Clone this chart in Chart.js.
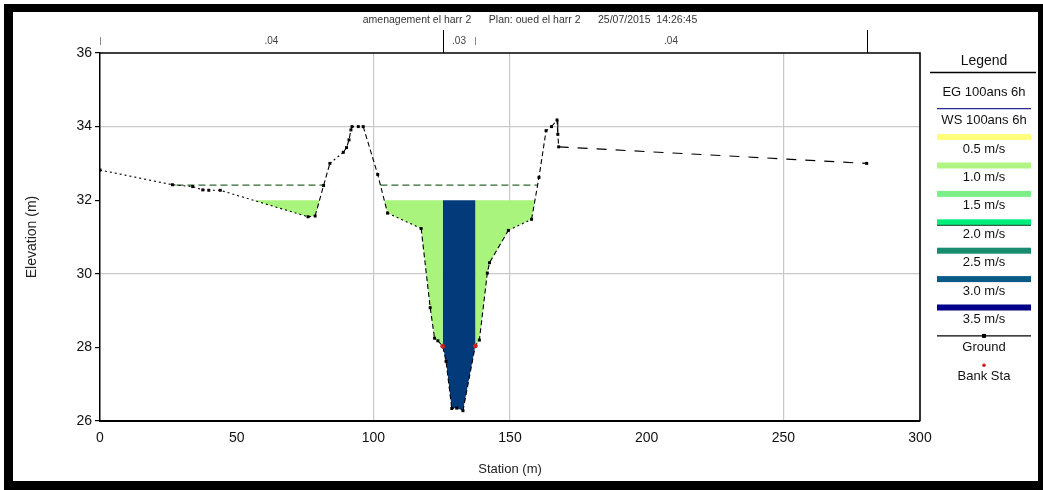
<!DOCTYPE html>
<html>
<head>
<meta charset="utf-8">
<script src="https://cdn.jsdelivr.net/npm/chart.js@4.4.1/dist/chart.umd.min.js"></script>
<style>
  html, body { margin: 0; padding: 0; background: #fff; }
  canvas { display: block; }
</style>
</head>
<body>
<canvas id="xs" width="1043" height="490"></canvas>
<script>
// ---- cross-section data ----
const titleText = 'amenagement el harr 2      Plan: oued el harr 2      25/07/2015  14:26:45';

const groundStation = [
  0, 26.5, 33.9, 37.6, 39.8, 44.0, 76.1, 78.7, 81.8, 84.1, 89.0, 90.2, 91.1, 91.8,
  92.2, 94.5, 96.3, 101.6, 105.2, 117.5, 120.8, 122.4, 123.6, 125.4, 126.6, 128.7,
  130.5, 132.8, 137.3, 138.8, 141.7, 142.5, 149.4, 157.9, 160.6, 163.2, 165.2,
  167.2, 167.5, 167.8, 280.5
];
const groundElevation = [
  32.82, 32.42, 32.37, 32.28, 32.27, 32.27, 31.55, 31.57, 32.40, 33.00, 33.30, 33.43, 33.64, 33.91,
  34.00, 34.00, 34.00, 32.70, 31.65, 31.23, 29.08, 28.25, 28.18, 28.03, 27.62, 26.34,
  26.35, 26.28, 28.04, 28.20, 30.02, 30.30, 31.18, 31.48, 32.62, 33.89, 34.00,
  34.18, 33.79, 33.45, 33.00
];

const bankStations = [125.4, 137.3];
const wsElevation = 32.0;     // water surface (top of velocity shading)
const egElevation = 32.41;    // energy grade line

// Manning's n regions along the top of the plot
const nChangeStations = [0, 125.4, 137.3, 280.5];
const nValues = ['.04', '.03', '.04'];

// velocity bins shown in the legend
const velocityLabels = ['0.5 m/s', '1.0 m/s', '1.5 m/s', '2.0 m/s', '2.5 m/s', '3.0 m/s', '3.5 m/s'];
const velocityColors = ['#ffff7c', '#b0f584', '#7def88', '#00ef7c', '#178c6e', '#0a5a86', '#00008a'];

// shading of the wetted sub-areas
const overbankColor = '#a9f47c';
const channelColor = '#033b7a';

const gridStations = [100, 150, 250];
const gridElevations = [34, 30];

// ---- helpers working on the ground profile ----
function groundAt(s) {
  for (let i = 0; i < groundStation.length - 1; i++) {
    const a = groundStation[i], b = groundStation[i + 1];
    if (s >= a && s <= b) {
      const t = b === a ? 0 : (s - a) / (b - a);
      return groundElevation[i] + t * (groundElevation[i + 1] - groundElevation[i]);
    }
  }
  return groundElevation[groundElevation.length - 1];
}

// station ranges where the ground lies below a given level
function wetIntervals(level) {
  const out = [];
  let start = null;
  for (let i = 0; i < groundStation.length - 1; i++) {
    const s0 = groundStation[i], s1 = groundStation[i + 1];
    const z0 = groundElevation[i], z1 = groundElevation[i + 1];
    if (z0 >= level && z1 < level) {
      start = s0 + (z0 - level) / (z0 - z1) * (s1 - s0);
    } else if (z0 < level && z1 >= level && start !== null) {
      out.push([start, s0 + (level - z0) / (z1 - z0) * (s1 - s0)]);
      start = null;
    }
  }
  return out;
}

// closed outline between the ground and a level over [a, b]
function wetPolygon(a, b, level) {
  const pts = [{x: a, y: level}, {x: a, y: groundAt(a)}];
  for (let i = 0; i < groundStation.length; i++) {
    if (groundStation[i] > a && groundStation[i] < b) pts.push({x: groundStation[i], y: groundElevation[i]});
  }
  pts.push({x: b, y: groundAt(b)}, {x: b, y: level});
  return pts;
}

const groundPoints = groundStation.map((s, i) => ({x: s, y: groundElevation[i]}));
const bankPoints = bankStations.map(s => ({x: s, y: groundAt(s)}));

// energy grade line, broken where the ground rises above it
const egPoints = [];
wetIntervals(egElevation).forEach(([a, b], k) => {
  if (k > 0) egPoints.push({x: a - 0.01, y: null});
  egPoints.push({x: a, y: egElevation}, {x: b, y: egElevation});
});

// velocity shading: every wetted reach, the main channel split at the bank stations
const shadeSets = [];
wetIntervals(wsElevation).forEach(([a, b]) => {
  const [lb, rb] = bankStations;
  if (a < lb && b > rb) {
    shadeSets.push({pts: wetPolygon(a, lb, wsElevation), color: overbankColor});
    shadeSets.push({pts: wetPolygon(lb, rb, wsElevation), color: channelColor});
    shadeSets.push({pts: wetPolygon(rb, b, wsElevation), color: overbankColor});
  } else {
    shadeSets.push({pts: wetPolygon(a, b, wsElevation), color: overbankColor});
  }
});

const FONT = '"Liberation Sans", Arial, sans-serif';

// ---- decorations: frame, title strip, n values, legend ----
const decorPlugin = {
  id: 'decor',
  afterDraw(chart) {
    const ctx = chart.ctx;
    const area = chart.chartArea;
    const xs = chart.scales.x;
    ctx.save();

    // plot frame (top and right edges)
    ctx.strokeStyle = '#000';
    ctx.lineWidth = 1.6;
    ctx.beginPath();
    ctx.moveTo(area.left, area.top);
    ctx.lineTo(area.right, area.top);
    ctx.lineTo(area.right, area.bottom);
    ctx.stroke();

    // title line
    ctx.fillStyle = '#333';
    ctx.font = '10.5px ' + FONT;
    ctx.textAlign = 'center';
    ctx.textBaseline = 'middle';
    ctx.fillText(titleText, 530, 20);

    // Manning's n marks and values
    ctx.lineWidth = 1;
    nChangeStations.forEach((s, i) => {
      const px = Math.round(xs.getPixelForValue(s)) + 0.5;
      const full = (i === 1 || i === nChangeStations.length - 1);
      ctx.strokeStyle = full ? '#000' : '#888';
      ctx.beginPath();
      ctx.moveTo(px, full ? 30 : 37);
      ctx.lineTo(px, full ? area.top : 45);
      ctx.stroke();
    });
    ctx.fillStyle = '#444';
    ctx.font = '10px ' + FONT;
    nValues.forEach((v, i) => {
      const mid = (nChangeStations[i] + nChangeStations[i + 1]) / 2;
      ctx.fillText(v, xs.getPixelForValue(mid), 41);
    });

    // legend
    const lx0 = 937, lx1 = 1031, lcx = 984;
    ctx.fillStyle = '#111';
    ctx.font = '14px ' + FONT;
    ctx.fillText('Legend', lcx, 61);
    ctx.strokeStyle = '#000';
    ctx.lineWidth = 1.5;
    ctx.beginPath();
    ctx.moveTo(930, 72.5);
    ctx.lineTo(1036, 72.5);
    ctx.stroke();

    const labels = ['EG 100ans 6h', 'WS 100ans 6h'].concat(velocityLabels, ['Ground', 'Bank Sta']);
    ctx.font = '13px ' + FONT;
    labels.forEach((lab, i) => {
      const ly = 92.3 + i * 28.4;
      const sy = ly - 12;
      if (i === 1) {
        ctx.strokeStyle = '#2a2a8a';
        ctx.lineWidth = 1.2;
        ctx.beginPath();
        ctx.moveTo(lx0, sy);
        ctx.lineTo(lx1, sy);
        ctx.stroke();
      } else if (i >= 2 && i <= 8) {
        ctx.fillStyle = velocityColors[i - 2];
        ctx.fillRect(lx0, sy - 3, lx1 - lx0, 6);
        if (i === 5) {
          ctx.fillStyle = '#1b3b2b';
          ctx.fillRect(lx0, sy + 2.5, lx1 - lx0, 1);
        }
      } else if (i === 9) {
        ctx.strokeStyle = '#000';
        ctx.lineWidth = 1.2;
        ctx.beginPath();
        ctx.moveTo(lx0, sy);
        ctx.lineTo(lx1, sy);
        ctx.stroke();
        ctx.fillStyle = '#000';
        ctx.fillRect(lcx - 2, sy - 2, 4, 4);
      } else if (i === 10) {
        ctx.fillStyle = '#d02020';
        ctx.beginPath();
        ctx.arc(lcx, sy + 1, 1.8, 0, Math.PI * 2);
        ctx.fill();
      }
      ctx.fillStyle = '#111';
      ctx.fillText(lab, lcx, ly);
    });

    // outer black frame
    ctx.fillStyle = '#000';
    ctx.fillRect(4, 4, 1039, 8);
    ctx.fillRect(4, 4, 9, 486);
    ctx.fillRect(1038, 4, 5, 486);
    ctx.fillRect(4, 481, 1039, 9);

    ctx.restore();
  }
};

// ---- datasets ----
const datasets = [
  {
    label: 'Bank Sta',
    data: bankPoints,
    showLine: false,
    pointRadius: 2,
    pointStyle: 'circle',
    pointBackgroundColor: '#d02020',
    pointBorderColor: '#d02020',
    order: 0
  },
  {
    label: 'Ground',
    data: groundPoints,
    borderColor: '#000',
    borderWidth: 1.1,
    pointStyle: 'rect',
    pointRadius: 2.1,
    pointBackgroundColor: '#000',
    pointBorderColor: '#000',
    pointBorderWidth: 0,
    fill: false,
    tension: 0,
    segment: {
      borderDash: c => {
        const dx = Math.abs(c.p1.x - c.p0.x), dy = Math.abs(c.p1.y - c.p0.y);
        if (dx > 200) return [10, 9];
        if (dy > dx) return [5, 3];
        return [2, 3];
      }
    },
    order: 1
  },
  {
    label: 'EG 100ans 6h',
    data: egPoints,
    borderColor: '#2d6a2d',
    borderWidth: 1.2,
    borderDash: [7, 4],
    pointRadius: 0,
    spanGaps: false,
    fill: false,
    order: 2
  }
].concat(shadeSets.map((s, i) => ({
  label: 'shade' + i,
  data: s.pts,
  borderWidth: 0,
  borderColor: 'rgba(0,0,0,0)',
  backgroundColor: s.color,
  pointRadius: 0,
  fill: 'shape',
  order: 5
})));

new Chart(document.getElementById('xs'), {
  type: 'line',
  data: { datasets },
  plugins: [decorPlugin],
  options: {
    responsive: false,
    animation: false,
    devicePixelRatio: 1,
    layout: { padding: { left: 20, right: 123, top: 53, bottom: 0 } },
    plugins: { legend: { display: false }, tooltip: { enabled: false } },
    scales: {
      x: {
        type: 'linear',
        min: 0, max: 300,
        ticks: { stepSize: 50, color: '#111', font: { family: FONT, size: 14 }, padding: 5, maxRotation: 0 },
        grid: {
          color: c => gridStations.includes(c.tick && c.tick.value) ? '#c9c9c9' : 'rgba(0,0,0,0)',
          tickColor: 'rgba(0,0,0,0)',
          tickLength: 4,
          lineWidth: 1.2
        },
        border: { color: '#000', width: 2 },
        title: { display: true, text: 'Station (m)', color: '#222', font: { family: FONT, size: 13 }, padding: { top: 0, bottom: 13 } },
        afterFit: s => { s.height = 69; }
      },
      y: {
        min: 26, max: 36,
        ticks: { stepSize: 2, color: '#111', font: { family: FONT, size: 14 }, padding: 3 },
        grid: {
          color: c => gridElevations.includes(c.tick && c.tick.value) ? '#c9c9c9' : 'rgba(0,0,0,0)',
          tickColor: '#000',
          tickLength: 5,
          lineWidth: 1.2
        },
        border: { color: '#000', width: 1.5 },
        title: { display: true, text: 'Elevation (m)', color: '#222', font: { family: FONT, size: 14 }, padding: { top: 4, bottom: 0 } },
        afterFit: s => { s.width = 80; }
      }
    }
  }
});
</script>
</body>
</html>
